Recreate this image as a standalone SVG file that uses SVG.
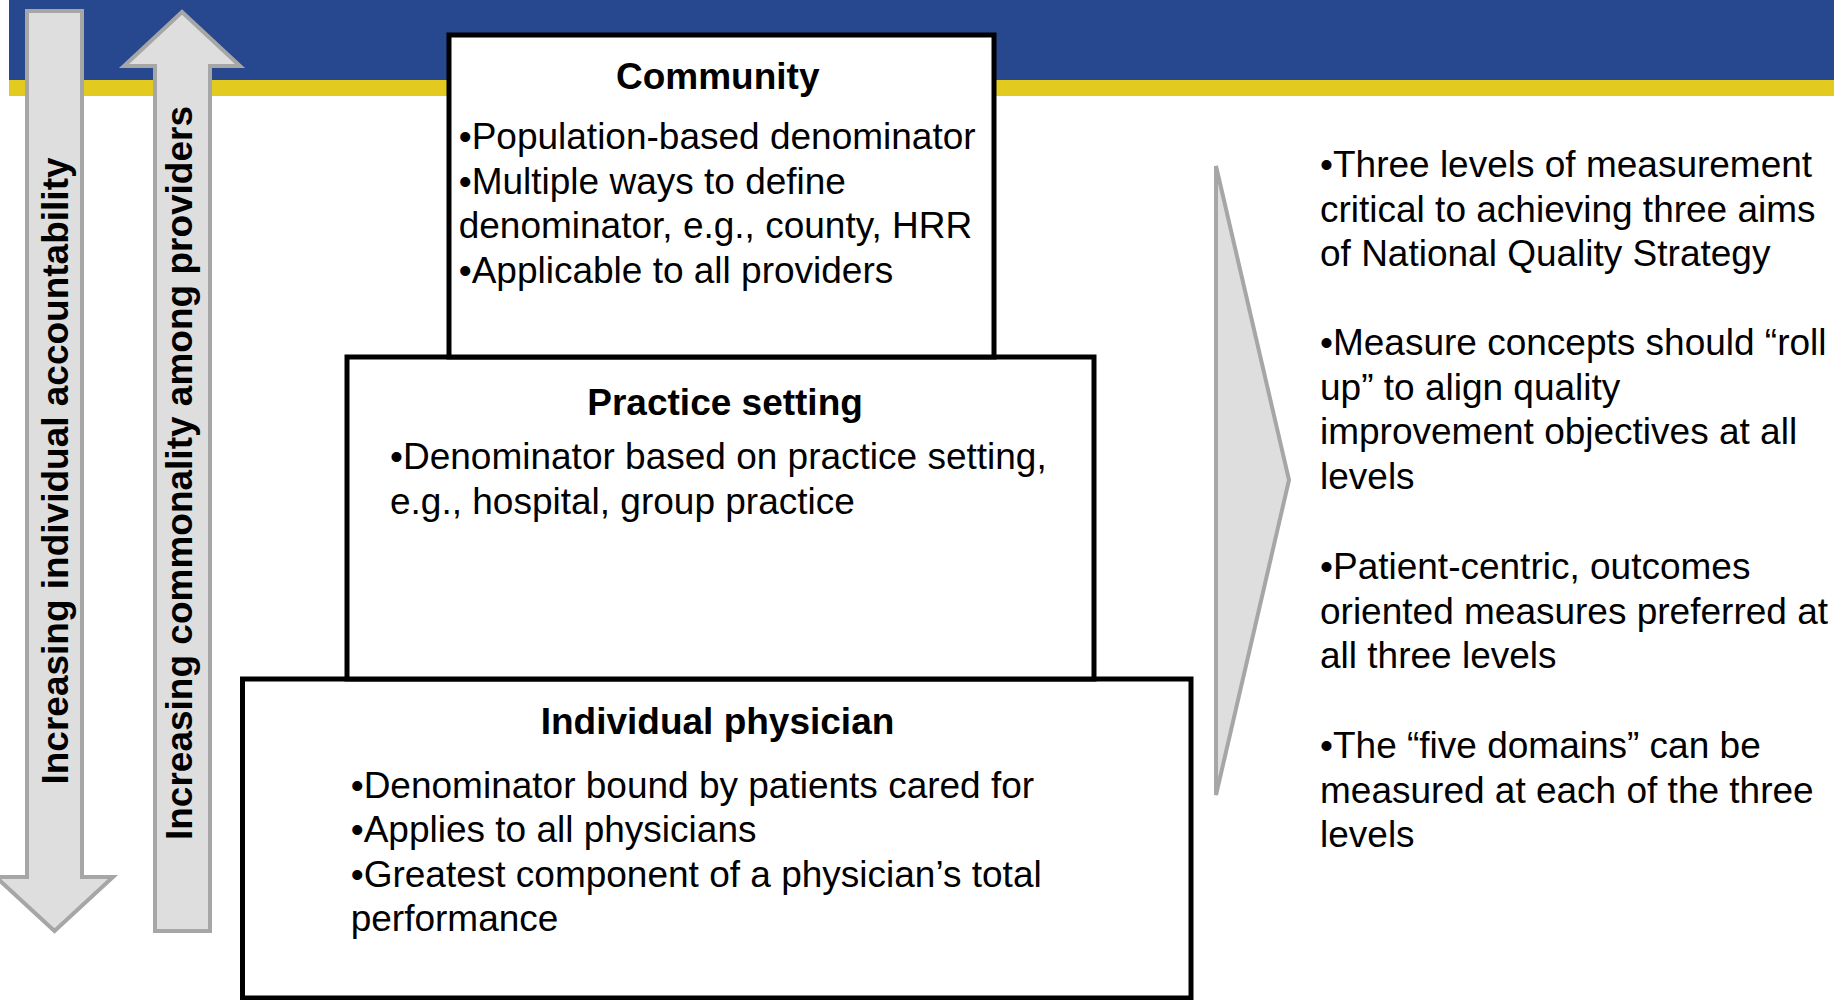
<svg xmlns="http://www.w3.org/2000/svg" width="1834" height="1000" viewBox="0 0 1834 1000">
  <style>
    .txt { font-family: "Liberation Sans", Arial, sans-serif; font-size: 37px; fill: #000; }
    .bold { font-weight: bold; }
    .box { fill: #fff; stroke: #000; stroke-width: 5; }
    .gray { fill: #dedede; stroke: #a6a6a6; stroke-width: 4; }
  </style>

  <rect x="0" y="0" width="1834" height="1000" fill="#fff"/>

  <!-- header band -->
  <g id="header">
    <rect x="9" y="0" width="1825" height="80" fill="#27478e"/>
    <rect x="9" y="80" width="1825" height="16" fill="#e3ca1f"/>
  </g>

  <!-- side block arrows -->
  <g id="arrows">
    <g id="accountability-arrow">
      <path class="gray" d="M27,11 H82 V877 H113 L54.5,931 L-4,877 H27 Z"/>
      <text class="txt bold" text-anchor="middle" transform="translate(68,471) rotate(-90)">Increasing individual accountability</text>
    </g>
    <g id="commonality-arrow">
      <path class="gray" d="M182,12 L240,66 H210 V931 H155 V66 H124 Z"/>
      <text class="txt bold" text-anchor="middle" transform="translate(192,473) rotate(-90)">Increasing commonality among providers</text>
    </g>
  </g>

  <!-- level boxes -->
  <g id="individual-physician">
    <rect class="box" x="242.5" y="679" width="948.5" height="319"/>
    <text class="txt bold" x="540.7" y="734">Individual physician</text>
    <text class="txt" x="350.7" y="797.5">•Denominator bound by patients cared for</text>
    <text class="txt" x="350.7" y="842">•Applies to all physicians</text>
    <text class="txt" x="350.7" y="886.5">•Greatest component of a physician’s total</text>
    <text class="txt" x="350.7" y="931">performance</text>
  </g>

  <g id="practice-setting">
    <rect class="box" x="347" y="357" width="747" height="322"/>
    <text class="txt bold" x="587.3" y="415">Practice setting</text>
    <text class="txt" x="390" y="469">•Denominator based on practice setting,</text>
    <text class="txt" x="390" y="513.5">e.g., hospital, group practice</text>
  </g>

  <g id="community">
    <rect class="box" x="449" y="35" width="545" height="322"/>
    <text class="txt bold" x="616" y="89">Community</text>
    <text class="txt" x="458.7" y="149">•Population-based denominator</text>
    <text class="txt" x="458.7" y="193.5">•Multiple ways to define</text>
    <text class="txt" x="458.7" y="238">denominator, e.g., county, HRR</text>
    <text class="txt" x="458.7" y="282.5">•Applicable to all providers</text>
  </g>

  <!-- chevron pointing to the summary -->
  <g id="summary-chevron">
    <polygon class="gray" points="1216,166 1289,480 1216,795"/>
  </g>

  <g id="summary-text">
    <text class="txt" x="1320" y="177">•Three levels of measurement</text>
    <text class="txt" x="1320" y="221.5">critical to achieving three aims</text>
    <text class="txt" x="1320" y="266">of National Quality Strategy</text>

    <text class="txt" x="1320" y="355">•Measure concepts should “roll</text>
    <text class="txt" x="1320" y="399.5">up” to align quality</text>
    <text class="txt" x="1320" y="444">improvement objectives at all</text>
    <text class="txt" x="1320" y="488.5">levels</text>

    <text class="txt" x="1320" y="579">•Patient-centric, outcomes</text>
    <text class="txt" x="1320" y="623.5">oriented measures preferred at</text>
    <text class="txt" x="1320" y="668">all three levels</text>

    <text class="txt" x="1320" y="758">•The “five domains” can be</text>
    <text class="txt" x="1320" y="802.5">measured at each of the three</text>
    <text class="txt" x="1320" y="847">levels</text>
  </g>
</svg>
